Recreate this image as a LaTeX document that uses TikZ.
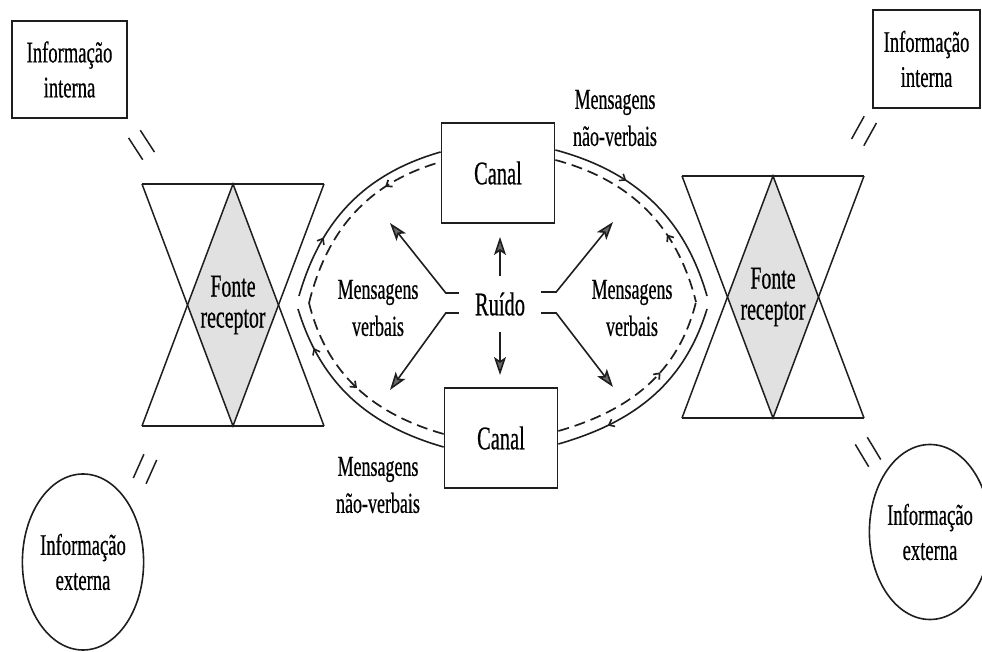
\documentclass[tikz,border=0pt]{standalone}
\usepackage{fontspec}
\setmainfont[FakeStretch=0.62, FakeBold=0.5]{Liberation Serif}
\usepackage{tikz}
\usetikzlibrary{arrows.meta, positioning, calc, shapes.geometric, decorations.markings}
\definecolor{tinta}{RGB}{30, 30, 30}
\definecolor{miolo}{RGB}{225, 225, 225}
\definecolor{ponta}{RGB}{105, 105, 105}

\tikzset{
    traco/.style={draw=tinta, line width=1.5pt},
    borda/.style={draw=tinta, line width=2.6pt},
    infobox/.style={draw=tinta, line width=1.9pt, rectangle, inner sep=0pt, align=center,
        font=\fontsize{30}{35}\selectfont},
    infoell/.style={draw=tinta, line width=1.6pt, ellipse, inner sep=0pt, align=center,
        font=\fontsize{30}{35}\selectfont},
    canal/.style={draw=tinta, line width=1.8pt, rectangle, minimum width=113pt, minimum height=100pt,
        inner sep=0pt, font=\fontsize{33}{36}\selectfont},
    fonte/.style={align=center, inner sep=0pt, font=\fontsize{32}{31}\selectfont},
    rotulo/.style={align=center, inner sep=0pt, font=\fontsize{29}{37}\selectfont},
    seta/.style={draw=tinta, line width=1.6pt, -{Stealth[length=18pt, width=12pt, inset=4pt, fill=ponta]}},
    lente/.style={draw=tinta, line width=1.6pt},
    tracejado/.style={draw=tinta, line width=1.7pt, dash pattern=on 11pt off 6pt},
    marca/.style={postaction={decorate, decoration={markings,
        mark=at position #1 with {\arrow{Straight Barb[length=5pt, width=8pt]}}}}},
    marcainv/.style={postaction={decorate, decoration={markings,
        mark=at position #1 with {\arrowreversed{Straight Barb[length=5pt, width=8pt]}}}}}
}

\begin{document}
\begin{tikzpicture}[x=1pt, y=1pt]
\useasboundingbox (0,0) rectangle (982,652);

% ampulhetas fonte/receptor
\coordinate (hgL) at (233,347);
\coordinate (hgR) at (773,355);
\foreach \h in {hgL,hgR}{
    \fill[miolo] ($(\h)+(0,121)$) -- ($(\h)+(45.5,0)$) -- ($(\h)+(0,-121)$) -- ($(\h)+(-45.5,0)$) -- cycle;
    \draw[traco] ($(\h)+(-91,121)$) -- ($(\h)+(0,-121)$) -- ($(\h)+(91,121)$);
    \draw[traco] ($(\h)+(-91,-121)$) -- ($(\h)+(0,121)$) -- ($(\h)+(91,-121)$);
    \draw[borda] ($(\h)+(-91,121)$) -- ($(\h)+(91,121)$);
    \draw[borda] ($(\h)+(-91,-121)$) -- ($(\h)+(91,-121)$);
}
\node[fonte] (fonteL) at (hgL) {Fonte\\receptor};
\node[fonte] (fonteR) at (hgR) {Fonte\\receptor};

% informacao interna / externa
\node[infobox, minimum width=115pt, minimum height=97pt] (intL) at (69.5,582.5) {Informação\\interna};
\node[infobox, minimum width=107pt, minimum height=98pt] (intR) at (926.5,593) {Informação\\interna};
\node[infoell, minimum width=96pt, minimum height=176pt] (extL) at (83,90) {Informação\\externa};
\node[infoell, minimum width=102pt, minimum height=175pt] (extR) at (930,120) {Informação\\externa};

% canais e ruido
\node[canal] (canalT) at (498,479) {Canal};
\node[canal] (canalB) at (501,214) {Canal};
\node[inner sep=0pt, minimum width=82pt, minimum height=56pt,
      font=\fontsize{33}{36}\selectfont] (ruido) at (500,348) {Ruído};

\node[rotulo] (verbL) at (378,344) {Mensagens\\verbais};
\node[rotulo] (verbR) at (632,344) {Mensagens\\verbais};
\node[rotulo] (naoT) at (615,534) {Mensagens\\não-verbais};
\node[rotulo] (naoB) at (378,167) {Mensagens\\não-verbais};

% setas do ruido
\coordinate (cUp) at (500,415);
\coordinate (cDn) at (500,277);
\coordinate (cUL) at (390,429);
\coordinate (cLL) at (390,262);
\coordinate (cUR) at (613,430);
\coordinate (cLR) at (613,265);
\draw[seta] (ruido.north) -- (cUp);
\draw[seta] (ruido.south) -- (cDn);
\draw[seta] ([yshift=11pt]ruido.west) -- ++(-13,0) -- (cUL);
\draw[seta] ([yshift=-9pt]ruido.west) -- ++(-13,0) -- (cLL);
\draw[seta] ([yshift=12pt]ruido.east) -- ++(15,0) -- (cUR);
\draw[seta] ([yshift=-9pt]ruido.east) -- ++(15,0) -- (cLR);

% lente: mensagens nao-verbais
\coordinate (tLa) at (299,356);
\coordinate (tLb) at (298,343);
\coordinate (tRa) at (707,356);
\coordinate (tRb) at (707,343);
\coordinate (dL) at (309,349);
\coordinate (dR) at (696,350);
\draw[lente, marca=0.3] (tLa) to[out=74, in=196] ([yshift=21pt]canalT.west);
\draw[lente, marca=0.35] ([yshift=23pt]canalT.east) to[out=-15, in=106] (tRa);
\draw[lente, marcainv=0.25] ([yshift=-6pt]canalB.east) to[out=16, in=253] (tRb);
\draw[lente, marcainv=0.2] (tLb) to[out=-73, in=164] ([yshift=-9pt]canalB.west);
\draw[tracejado, marcainv=0.7] (dL) to[out=76, in=196] ([yshift=11pt]canalT.west);
\draw[tracejado, marcainv=0.65] ([yshift=13pt]canalT.east) to[out=-15, in=104] (dR);
\draw[tracejado, marca=0.6] ([yshift=7pt]canalB.east) to[out=16, in=256] (dR);
\draw[tracejado, marca=0.5] (dL) to[out=-76, in=164] ([yshift=4pt]canalB.west);

% cortes //
\coordinate (mTL) at (141.5,507);
\coordinate (mBL) at (145,183);
\coordinate (mTR) at (864,521);
\coordinate (mBR) at (868,200);
\foreach \p/\a in {mTL/-57, mBL/66, mTR/61, mBR/-59}
    \draw[traco, shift={(\p)}, rotate=\a] (-13,-7) -- (13,-7) (-13,7) -- (13,7);
\end{tikzpicture}
\end{document}
